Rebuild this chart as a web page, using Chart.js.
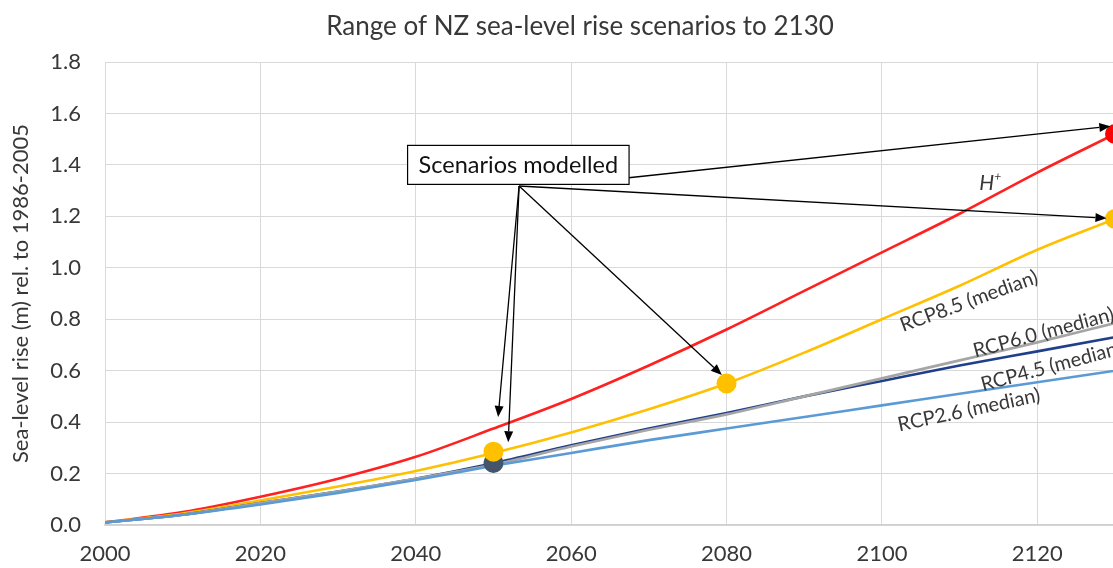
<!DOCTYPE html>
<html>
<head>
<meta charset="utf-8">
<script src="https://cdn.jsdelivr.net/npm/chart.js@4.4.1/dist/chart.umd.min.js"></script>
<style>
  html, body { margin: 0; padding: 0; overflow: hidden; background: #fff; }
  #wrap { width: 1160px; height: 568px; }
</style>
</head>
<body>
<div id="wrap"><canvas id="slrChart" width="1160" height="568"></canvas></div>
<script>
// data (m, rel. to 1986-2005)
const years = [2000, 2010, 2020, 2030, 2040, 2050, 2060, 2070, 2080, 2090, 2100, 2110, 2120, 2130];
const hPlus = [0.01, 0.05, 0.11, 0.18, 0.265, 0.375, 0.49, 0.62, 0.76, 0.91, 1.06, 1.21, 1.37, 1.52];
const rcp85 = [0.01, 0.045, 0.095, 0.15, 0.21, 0.28, 0.36, 0.45, 0.55, 0.67, 0.80, 0.93, 1.07, 1.19];
const rcp60 = [0.01, 0.04, 0.085, 0.13, 0.18, 0.235, 0.305, 0.37, 0.43, 0.50, 0.57, 0.64, 0.71, 0.785];
const rcp45 = [0.01, 0.04, 0.085, 0.13, 0.18, 0.24, 0.31, 0.375, 0.435, 0.50, 0.56, 0.62, 0.675, 0.73];
const rcp26 = [0.01, 0.04, 0.08, 0.125, 0.175, 0.23, 0.28, 0.33, 0.375, 0.42, 0.465, 0.51, 0.555, 0.60];

// modelled scenario points
const redPoints = [{x: 2130, y: 1.52}];
const yellowPoints = [{x: 2050, y: 0.285}, {x: 2080, y: 0.55}, {x: 2130, y: 1.19}];
const navyPoints = [{x: 2050, y: 0.241}];

const chartTitle = "Range of NZ sea-level rise scenarios to 2130";
const yTitle = "Sea-level rise (m) rel. to 1986-2005";
const boxText = "Scenarios modelled";

const FONT = "Lato, 'Open Sans', sans-serif";
const TEXT = '#383838';

function toXY(arr) {
  return arr.map((v, i) => ({x: years[i], y: v}));
}

function lineSet(label, data, color) {
  return {
    label: label,
    data: toXY(data),
    borderColor: color,
    backgroundColor: color,
    borderWidth: 2.6,
    pointRadius: 0,
    cubicInterpolationMode: 'monotone',
    showLine: true,
    order: 2
  };
}

function pointSet(label, data, color) {
  return {
    label: label,
    data: data,
    borderColor: color,
    backgroundColor: color,
    pointRadius: 10,
    pointBorderWidth: 0,
    showLine: false,
    order: 0
  };
}

// line labels, arrows and the "Scenarios modelled" box (in data units)
const lineLabels = [
  {text: "RCP8.5 (median)", x: 2111.2, y: 0.87, angle: -20},
  {text: "RCP6.0 (median)", x: 2120.8, y: 0.748, angle: -15},
  {text: "RCP4.5 (median)", x: 2121.8, y: 0.617, angle: -15},
  {text: "RCP2.6 (median)", x: 2111.2, y: 0.447, angle: -12}
];
const boxAt = {x: 2053.2, y: 1.40};
const arrows = [
  {from: [2053.3, 1.318], to: [2050.6, 0.42]},
  {from: [2053.3, 1.318], to: [2051.9, 0.322]},
  {from: [2053.3, 1.318], to: [2079.4, 0.583]},
  {from: [2067.4, 1.35], to: [2129.4, 1.55]},
  {from: [2053.3, 1.318], to: [2128.9, 1.193]}
];

const overlay = {
  id: 'overlay',
  afterDatasetsDraw(chart) {
    const ctx = chart.ctx;
    const xs = chart.scales.x, ys = chart.scales.y;
    ctx.save();

    // title
    ctx.fillStyle = TEXT;
    ctx.font = "26px " + FONT;
    ctx.textAlign = 'center';
    ctx.textBaseline = 'middle';
    ctx.fillText(chartTitle, chart.width / 2, 27);

    // line labels
    ctx.font = "20px " + FONT;
    lineLabels.forEach(l => {
      ctx.save();
      ctx.translate(xs.getPixelForValue(l.x), ys.getPixelForValue(l.y));
      ctx.rotate(l.angle * Math.PI / 180);
      ctx.fillText(l.text, 0, 0);
      ctx.restore();
    });

    // H+
    const hx = xs.getPixelForValue(2113.5), hy = ys.getPixelForValue(1.33);
    ctx.font = "italic 21px " + FONT;
    ctx.fillText("H", hx, hy);
    ctx.font = "italic 12px " + FONT;
    ctx.fillText("+", hx + 11, hy - 7);

    // arrows
    ctx.strokeStyle = '#000';
    ctx.fillStyle = '#000';
    ctx.lineWidth = 1.3;
    arrows.forEach(a => {
      const x1 = xs.getPixelForValue(a.from[0]), y1 = ys.getPixelForValue(a.from[1]);
      const x2 = xs.getPixelForValue(a.to[0]), y2 = ys.getPixelForValue(a.to[1]);
      const ang = Math.atan2(y2 - y1, x2 - x1);
      const len = 11, wid = 4.5;
      const bx = x2 - len * Math.cos(ang), by = y2 - len * Math.sin(ang);
      ctx.beginPath();
      ctx.moveTo(x1, y1);
      ctx.lineTo(bx, by);
      ctx.stroke();
      ctx.beginPath();
      ctx.moveTo(x2, y2);
      ctx.lineTo(bx + wid * Math.sin(ang), by - wid * Math.cos(ang));
      ctx.lineTo(bx - wid * Math.sin(ang), by + wid * Math.cos(ang));
      ctx.closePath();
      ctx.fill();
    });

    // box
    ctx.font = "23.5px " + FONT;
    const tw = ctx.measureText(boxText).width;
    const cx = xs.getPixelForValue(boxAt.x), cy = ys.getPixelForValue(boxAt.y);
    const bw = tw + 22, bh = 39;
    ctx.fillStyle = '#fff';
    ctx.fillRect(cx - bw / 2, cy - bh / 2, bw, bh);
    ctx.strokeStyle = '#000';
    ctx.lineWidth = 1.2;
    ctx.strokeRect(cx - bw / 2, cy - bh / 2, bw, bh);
    ctx.fillStyle = '#111';
    ctx.fillText(boxText, cx, cy + 1);

    ctx.restore();
  }
};

const ctx = document.getElementById('slrChart').getContext('2d');
const chart = new Chart(ctx, {
  type: 'scatter',
  data: {
    datasets: [
      pointSet("H+ point", redPoints, '#ff0000'),
      pointSet("RCP8.5 points", yellowPoints, '#ffc000'),
      pointSet("RCP4.5 point", navyPoints, '#44546a'),
      lineSet("RCP2.6 (median)", rcp26, '#5b9bd5'),
      lineSet("RCP6.0 (median)", rcp60, '#a5a5a5'),
      lineSet("RCP4.5 (median)", rcp45, '#203f8a'),
      lineSet("RCP8.5 (median)", rcp85, '#ffc000'),
      lineSet("H+", hPlus, '#ff2020')
    ]
  },
  options: {
    responsive: false,
    animation: false,
    layout: { padding: { top: 62, right: 45, left: 0, bottom: 0 } },
    scales: {
      x: {
        type: 'linear',
        min: 2000,
        max: 2130,
        grid: { color: '#d9d9d9', lineWidth: 1, drawTicks: false, tickLength: 0 },
        border: { color: '#d0d0d0', width: 1.5 },
        ticks: {
          stepSize: 20,
          includeBounds: false,
          padding: 16,
          color: TEXT,
          font: { family: FONT, size: 22 },
          callback: v => String(v)
        },
        afterFit: s => { s.height = 43; }
      },
      y: {
        min: 0,
        max: 1.8,
        grid: { color: '#d9d9d9', lineWidth: 1, drawTicks: false, tickLength: 0 },
        border: { display: false },
        ticks: {
          stepSize: 0.2,
          padding: 24,
          color: TEXT,
          font: { family: FONT, size: 22 },
          callback: v => v.toFixed(1)
        },
        title: {
          display: true,
          text: yTitle,
          color: TEXT,
          font: { family: FONT, size: 22 },
          padding: { top: 8, bottom: 0 }
        },
        afterFit: s => { s.width = 105; }
      }
    },
    plugins: {
      legend: { display: false },
      title: { display: false },
      tooltip: { enabled: false }
    }
  },
  plugins: [overlay]
});
</script>
</body>
</html>
